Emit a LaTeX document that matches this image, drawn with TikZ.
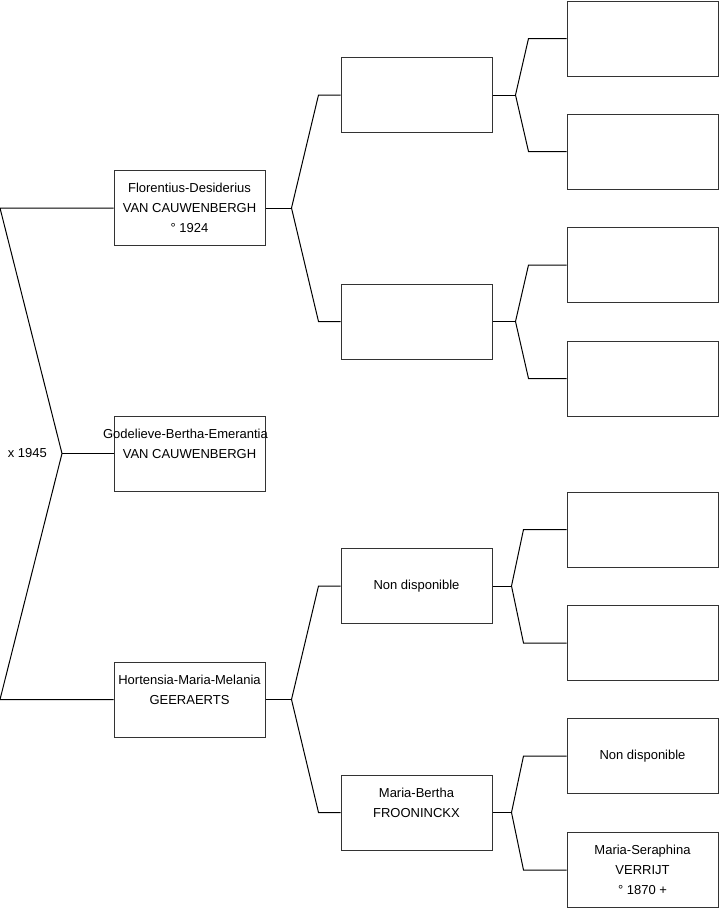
\documentclass[tikz,border=0pt]{standalone}
\usepackage{fontspec}
\setmainfont{Liberation Sans}
\usetikzlibrary{positioning,calc}

\begin{document}
\begin{tikzpicture}[
    x=1pt, y=-1pt,
    box/.style={draw=black!80, line width=1pt, minimum width=151pt, minimum height=75pt,
      inner sep=0pt, align=center, font=\fontsize{13}{20}\selectfont},
    lbl/.style={inner sep=0pt, font=\fontsize{13}{20}\selectfont},
    wire/.style={line width=1pt},
  ]
  \useasboundingbox (0,0) rectangle (719,908);
  % generation 1
  \node[box] (fa) at (189.5,208) {Florentius-Desiderius\\VAN CAUWENBERGH\\° 1924};
  \node[box] (me) at (189.5,453.5) {\makebox[151pt]{\hspace{-8pt}Godelieve-Bertha-Emerantia}\\VAN CAUWENBERGH\\~};
  \node[box] (mo) at (189.5,699.5) {Hortensia-Maria-Melania\\GEERAERTS\\~};
  % generation 2
  \node[box] (ffa) at (416.5,95) {};
  \node[box] (fmo) at (416.5,321.5) {};
  \node[box] (mfa) at (416.5,586) {Non disponible};
  \node[box] (mmo) at (416.5,812.5) {Maria-Bertha\\FROONINCKX\\~};
  % generation 3
  \node[box] (ffa1) at (642.5,38.5) {};
  \node[box] (ffa2) at (642.5,151.5) {};
  \node[box] (fmo1) at (642.5,265) {};
  \node[box] (fmo2) at (642.5,378.5) {};
  \node[box] (mfa1) at (642.5,529.5) {};
  \node[box] (mfa2) at (642.5,643) {};
  \node[box] (mmo1) at (642.5,756) {Non disponible};
  \node[box] (mmo2) at (642.5,870) {Maria-Seraphina\\VERRIJT\\° 1870 +};
  % marriage
  \coordinate (mx) at (62,453.5);
  \coordinate (mtop) at (0,208);
  \coordinate (mbot) at (0,699.5);
  \draw[wire] (fa.west) -- (mtop) -- (mx) -- (mbot) -- (mo.west);
  \draw[wire] (mx) -- (me.west);
  \node[lbl, left=15pt of mx] (wed) {x 1945};
  % forks
  \foreach \p/\a/\b/\dx/\ex in {fa/ffa/fmo/26/22, mo/mfa/mmo/26/22,
      ffa/ffa1/ffa2/23/38, fmo/fmo1/fmo2/23/38, mfa/mfa1/mfa2/19/43, mmo/mmo1/mmo2/19/43} {
    \coordinate (\p-x) at ($(\p.east)+(\dx,0)$);
    \draw[wire] (\p.east) -- (\p-x);
    \draw[wire] (\a.west) -- ++(-\ex,0) -- (\p-x) -- ($(\b.west)+(-\ex,0)$) -- (\b.west);
  }
\end{tikzpicture}
\end{document}
